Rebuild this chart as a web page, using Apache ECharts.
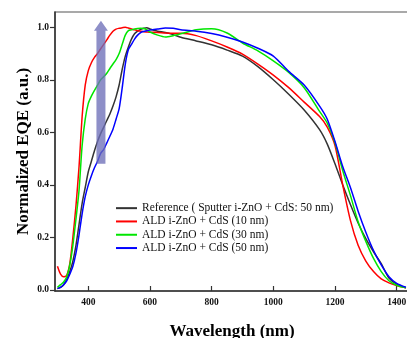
<!DOCTYPE html>
<html><head><meta charset="utf-8">
<script src="https://cdn.jsdelivr.net/npm/echarts@6/dist/echarts.min.js"></script>
<style>html,body{margin:0;padding:0;background:#fff}#c{width:407px;height:338px}</style>
</head><body><div id="c"></div>
<script>
var wavelength = [300,310,320,330,340,350,360,370,380,390,400,410,420,430,440,450,460,470,480,490,500,510,520,530,540,550,560,570,580,590,600,625,650,675,700,750,800,850,900,950,1000,1050,1100,1150,1175,1200,1225,1250,1275,1300,1325,1350,1375,1400,1430];
var refSputter = [0.005,0.01,0.02,0.04,0.07,0.11,0.17,0.25,0.33,0.39,0.45,0.49,0.53,0.565,0.595,0.62,0.645,0.67,0.70,0.735,0.78,0.84,0.89,0.925,0.955,0.975,0.985,0.992,0.996,0.998,0.993,0.985,0.98,0.972,0.962,0.948,0.933,0.913,0.89,0.85,0.80,0.745,0.685,0.61,0.555,0.48,0.40,0.325,0.255,0.195,0.145,0.10,0.045,0.022,0.008];
var ald10 = [0.09,0.06,0.05,0.056,0.10,0.20,0.32,0.47,0.66,0.78,0.835,0.865,0.885,0.90,0.918,0.935,0.952,0.97,0.985,0.993,0.996,0.998,1.0,0.997,0.993,0.99,0.987,0.985,0.983,0.982,0.981,0.98,0.978,0.977,0.977,0.968,0.948,0.925,0.898,0.86,0.818,0.77,0.715,0.66,0.62,0.55,0.40,0.265,0.17,0.11,0.07,0.042,0.027,0.017,0.008];
var ald30 = [0.01,0.02,0.03,0.05,0.095,0.17,0.27,0.38,0.55,0.65,0.71,0.738,0.76,0.78,0.80,0.812,0.825,0.843,0.86,0.877,0.90,0.935,0.97,0.987,0.99,0.993,0.995,0.996,0.995,0.99,0.982,0.97,0.963,0.968,0.975,0.99,0.994,0.978,0.94,0.91,0.872,0.828,0.77,0.68,0.635,0.56,0.455,0.36,0.26,0.185,0.12,0.07,0.035,0.018,0.008];
var ald50 = [0.005,0.01,0.02,0.035,0.06,0.09,0.14,0.21,0.29,0.355,0.40,0.435,0.465,0.49,0.52,0.535,0.56,0.585,0.612,0.65,0.69,0.77,0.86,0.915,0.935,0.955,0.97,0.98,0.984,0.987,0.989,0.993,0.997,0.996,0.99,0.985,0.976,0.962,0.944,0.92,0.89,0.832,0.78,0.70,0.65,0.565,0.47,0.39,0.30,0.22,0.15,0.095,0.05,0.025,0.01];
var seriesNames = ['Reference ( Sputter i-ZnO + CdS: 50 nm)','ALD i-ZnO + CdS (10 nm)','ALD i-ZnO + CdS (30 nm)','ALD i-ZnO + CdS (50 nm)'];
var seriesColors = ['#333333','#ff0000','#00e600','#0000ff'];
var xTicks = [400,600,800,1000,1200,1400];
var yTicks = [0,0.2,0.4,0.6,0.8,1.0];
var arrowWl = 441, arrowFrom = 0.48, arrowTo = 1.025;

function pairs(ys){return wavelength.map(function(w,i){return [w,ys[i]];});}
var allData = [refSputter, ald10, ald30, ald50];
var serif = '"Liberation Serif","DejaVu Serif",serif';
var chart = echarts.init(document.getElementById('c'), null, {renderer:'canvas'});
chart.setOption({
  animation:false,
  grid:{left:55,right:-2,top:12,bottom:47,show:true,borderColor:'#555',borderWidth:1.2,backgroundColor:'transparent',containLabel:false,outerBoundsMode:'none'},
  legend:{
    orient:'vertical',left:111,top:197,itemWidth:21,itemHeight:2,itemGap:1,
    icon:'rect',
    data:seriesNames.map(function(n,i){return {name:n,itemStyle:{color:seriesColors[i]}};}),
    textStyle:{fontFamily:serif,fontSize:11.5,color:'#111',lineHeight:12.3,padding:[0,0,0,0]}
  },
  xAxis:{
    type:'value',min:292,max:1440,
    name:'Wavelength (nm)',nameLocation:'middle',nameGap:32,nameMoveOverlap:false,
    nameTextStyle:{fontFamily:serif,fontSize:17,fontWeight:'bold',color:'#000'},
    axisLine:{show:true,onZero:false,lineStyle:{color:'#333',width:1.5}},
    axisTick:{show:true,inside:true,length:5,customValues:xTicks,lineStyle:{color:'#333',width:1.2}},
    axisLabel:{customValues:xTicks,formatter:function(v){return String(v);},fontFamily:serif,fontSize:9.5,fontWeight:'bold',color:'#111',margin:7},
    splitLine:{show:false}
  },
  yAxis:{
    type:'value',min:-0.004,max:1.058,
    name:'Normalized EQE (a.u.)',nameLocation:'middle',nameGap:23,nameRotate:90,nameMoveOverlap:false,
    nameTextStyle:{fontFamily:serif,fontSize:17,fontWeight:'bold',color:'#000'},
    axisLine:{show:true,onZero:false,lineStyle:{color:'#333',width:1.5}},
    axisTick:{show:true,inside:false,length:5,customValues:yTicks,lineStyle:{color:'#333',width:1.2}},
    axisLabel:{customValues:yTicks,formatter:function(v){return v.toFixed(1);},fontFamily:serif,fontSize:9.5,fontWeight:'bold',color:'#111',margin:6},
    splitLine:{show:false}
  },
  series: seriesNames.map(function(n,i){
    return {name:n,type:'line',data:pairs(allData[i]),symbol:'none',smooth:0.25,
      lineStyle:{color:seriesColors[i],width:1.5},itemStyle:{color:seriesColors[i]},z:2+i};
  })
});
function drawArrow(){
  var p0 = chart.convertToPixel({gridIndex:0},[arrowWl,arrowFrom]);
  var p1 = chart.convertToPixel({gridIndex:0},[arrowWl,arrowTo]);
  var cx = p0[0], sw = 4.5, hw = 7, hh = 10;
  chart.setOption({graphic:[{type:'polygon',z:100,
    shape:{points:[[cx-sw,p0[1]],[cx+sw,p0[1]],[cx+sw,p1[1]+hh],[cx+hw,p1[1]+hh],[cx,p1[1]],[cx-hw,p1[1]+hh],[cx-sw,p1[1]+hh]]},
    style:{fill:'rgba(110,112,185,0.78)'}}]});
}
drawArrow();
</script></body></html>
